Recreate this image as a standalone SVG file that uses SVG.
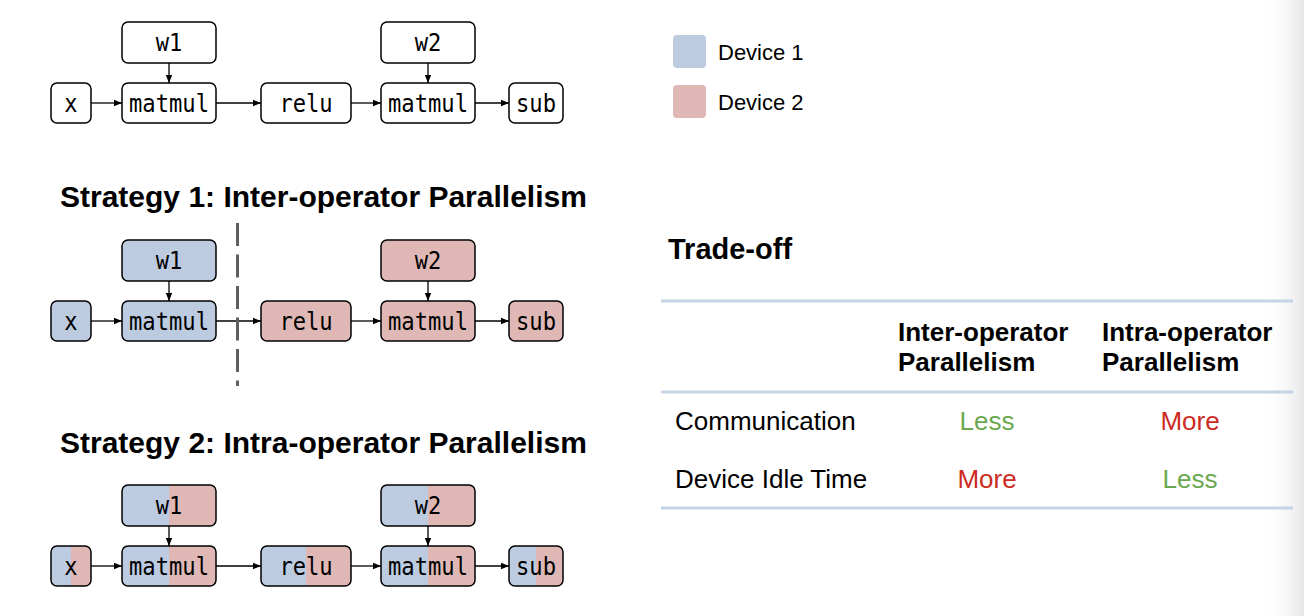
<svg xmlns="http://www.w3.org/2000/svg" width="1304" height="616" viewBox="0 0 1304 616">
<defs>
<style>
.n rect{stroke:#000;stroke-width:1.5}
.w{fill:#fff}
.b{fill:#bccbe0}
.p{fill:#dfb8b6}
.s{fill:url(#split)}
.n text{font-family:"DejaVu Sans Mono",monospace;font-size:24px;fill:#000;text-anchor:middle}
.c line{stroke:#000;stroke-width:1.3;marker-end:url(#ah)}
.t{font-family:"Liberation Sans",Arial,sans-serif;font-weight:bold;font-size:30px;fill:#000}
.h{font-family:"Liberation Sans",Arial,sans-serif;font-weight:bold;font-size:26px;fill:#000}
.r{font-family:"Liberation Sans",Arial,sans-serif;font-size:26px;fill:#000}
.g{fill:#6aa84f;text-anchor:middle}
.red{fill:#cc2a22;text-anchor:middle}
.tl{stroke:#c5d3e6;stroke-width:3}
.lg{font-family:"Liberation Sans",Arial,sans-serif;font-size:22px;fill:#000}
</style>
<linearGradient id="split" x1="0" y1="0" x2="1" y2="0">
<stop offset="0.5" stop-color="#bccbe0"/><stop offset="0.5" stop-color="#dfb8b6"/>
</linearGradient>
<linearGradient id="edge" x1="0" y1="0" x2="1" y2="0">
<stop offset="0" stop-color="#fff" stop-opacity="0"/><stop offset="1" stop-color="#e6e6e6"/>
</linearGradient>
<marker id="ah" viewBox="0 0 10 10" refX="10" refY="5" markerWidth="8" markerHeight="8" markerUnits="userSpaceOnUse" orient="auto">
<path d="M0,1 L10,5 L0,9 Z" fill="#000"/>
</marker>
</defs>
<rect width="1304" height="616" fill="#fff"/>
<rect x="1262" y="0" width="42" height="616" fill="url(#edge)"/>

<!-- Row 1 -->
<g id="r1-x" class="n"><rect class="w" x="51" y="83" width="40" height="40" rx="6"/><text x="71" y="112" textLength="13.3" lengthAdjust="spacingAndGlyphs">x</text></g>
<g id="r1-w1" class="n"><rect class="w" x="122" y="22" width="94" height="41" rx="6"/><text x="169" y="51" textLength="26.6" lengthAdjust="spacingAndGlyphs">w1</text></g>
<g id="r1-matmul1" class="n"><rect class="w" x="122" y="83" width="94" height="40" rx="6"/><text x="169" y="112" textLength="80" lengthAdjust="spacingAndGlyphs">matmul</text></g>
<g id="r1-relu" class="n"><rect class="w" x="261" y="83" width="90" height="40" rx="6"/><text x="306" y="112" textLength="53.2" lengthAdjust="spacingAndGlyphs">relu</text></g>
<g id="r1-w2" class="n"><rect class="w" x="381" y="22" width="94" height="41" rx="6"/><text x="428" y="51" textLength="26.6" lengthAdjust="spacingAndGlyphs">w2</text></g>
<g id="r1-matmul2" class="n"><rect class="w" x="381" y="83" width="94" height="40" rx="6"/><text x="428" y="112" textLength="80" lengthAdjust="spacingAndGlyphs">matmul</text></g>
<g id="r1-sub" class="n"><rect class="w" x="509" y="83" width="54" height="40" rx="6"/><text x="536" y="112" textLength="40" lengthAdjust="spacingAndGlyphs">sub</text></g>

<!-- Row 2 -->
<g id="r2-x" class="n"><rect class="b" x="51" y="301" width="40" height="40" rx="6"/><text x="71" y="330" textLength="13.3" lengthAdjust="spacingAndGlyphs">x</text></g>
<g id="r2-w1" class="n"><rect class="b" x="122" y="240" width="94" height="41" rx="6"/><text x="169" y="269" textLength="26.6" lengthAdjust="spacingAndGlyphs">w1</text></g>
<g id="r2-matmul1" class="n"><rect class="b" x="122" y="301" width="94" height="40" rx="6"/><text x="169" y="330" textLength="80" lengthAdjust="spacingAndGlyphs">matmul</text></g>
<g id="r2-relu" class="n"><rect class="p" x="261" y="301" width="90" height="40" rx="6"/><text x="306" y="330" textLength="53.2" lengthAdjust="spacingAndGlyphs">relu</text></g>
<g id="r2-w2" class="n"><rect class="p" x="381" y="240" width="94" height="41" rx="6"/><text x="428" y="269" textLength="26.6" lengthAdjust="spacingAndGlyphs">w2</text></g>
<g id="r2-matmul2" class="n"><rect class="p" x="381" y="301" width="94" height="40" rx="6"/><text x="428" y="330" textLength="80" lengthAdjust="spacingAndGlyphs">matmul</text></g>
<g id="r2-sub" class="n"><rect class="p" x="509" y="301" width="54" height="40" rx="6"/><text x="536" y="330" textLength="40" lengthAdjust="spacingAndGlyphs">sub</text></g>

<!-- Row 3 -->
<g id="r3-x" class="n"><rect class="s" x="51" y="546" width="40" height="40" rx="6"/><text x="71" y="575" textLength="13.3" lengthAdjust="spacingAndGlyphs">x</text></g>
<g id="r3-w1" class="n"><rect class="s" x="122" y="485" width="94" height="41" rx="6"/><text x="169" y="514" textLength="26.6" lengthAdjust="spacingAndGlyphs">w1</text></g>
<g id="r3-matmul1" class="n"><rect class="s" x="122" y="546" width="94" height="40" rx="6"/><text x="169" y="575" textLength="80" lengthAdjust="spacingAndGlyphs">matmul</text></g>
<g id="r3-relu" class="n"><rect class="s" x="261" y="546" width="90" height="40" rx="6"/><text x="306" y="575" textLength="53.2" lengthAdjust="spacingAndGlyphs">relu</text></g>
<g id="r3-w2" class="n"><rect class="s" x="381" y="485" width="94" height="41" rx="6"/><text x="428" y="514" textLength="26.6" lengthAdjust="spacingAndGlyphs">w2</text></g>
<g id="r3-matmul2" class="n"><rect class="s" x="381" y="546" width="94" height="40" rx="6"/><text x="428" y="575" textLength="80" lengthAdjust="spacingAndGlyphs">matmul</text></g>
<g id="r3-sub" class="n"><rect class="s" x="509" y="546" width="54" height="40" rx="6"/><text x="536" y="575" textLength="40" lengthAdjust="spacingAndGlyphs">sub</text></g>

<g id="connectors" class="c">
<line x1="91" y1="103" x2="122" y2="103"/>
<line x1="216" y1="103" x2="261" y2="103"/>
<line x1="351" y1="103" x2="381" y2="103"/>
<line x1="475" y1="103" x2="509" y2="103"/>
<line x1="169" y1="63" x2="169" y2="83"/>
<line x1="428" y1="63" x2="428" y2="83"/>

<line x1="91" y1="321" x2="122" y2="321"/>
<line x1="216" y1="321" x2="261" y2="321"/>
<line x1="351" y1="321" x2="381" y2="321"/>
<line x1="475" y1="321" x2="509" y2="321"/>
<line x1="169" y1="281" x2="169" y2="301"/>
<line x1="428" y1="281" x2="428" y2="301"/>

<line x1="91" y1="566" x2="122" y2="566"/>
<line x1="216" y1="566" x2="261" y2="566"/>
<line x1="351" y1="566" x2="381" y2="566"/>
<line x1="475" y1="566" x2="509" y2="566"/>
<line x1="169" y1="526" x2="169" y2="546"/>
<line x1="428" y1="526" x2="428" y2="546"/>
</g>

<line id="divider" x1="237.5" y1="223" x2="237.5" y2="386" stroke="#5f5f5f" stroke-width="3" stroke-dasharray="23 8.5"/>

<text class="t" x="60" y="207">Strategy 1: Inter-operator Parallelism</text>
<text class="t" x="60" y="453">Strategy 2: Intra-operator Parallelism</text>

<g id="legend">
<rect x="673" y="35" width="33" height="33" rx="4" fill="#bccbe0"/>
<text class="lg" x="718" y="60">Device 1</text>
<rect x="673" y="85" width="33" height="33" rx="4" fill="#dfb8b6"/>
<text class="lg" x="718" y="110">Device 2</text>
</g>

<g id="tradeoff">
<text class="t" x="668" y="259" style="font-size:29px">Trade-off</text>
<line class="tl" x1="661" y1="301" x2="1293" y2="301"/>
<text class="h" x="898" y="341">Inter-operator</text>
<text class="h" x="898" y="371">Parallelism</text>
<text class="h" x="1102" y="341">Intra-operator</text>
<text class="h" x="1102" y="371">Parallelism</text>
<line class="tl" x1="661" y1="392" x2="1293" y2="392"/>
<text class="r" x="675" y="430">Communication</text>
<text class="r g" x="987" y="430">Less</text>
<text class="r red" x="1190" y="430">More</text>
<text class="r" x="675" y="488">Device Idle Time</text>
<text class="r red" x="987" y="488">More</text>
<text class="r g" x="1190" y="488">Less</text>
<line class="tl" x1="661" y1="508" x2="1293" y2="508"/>
</g>
</svg>
